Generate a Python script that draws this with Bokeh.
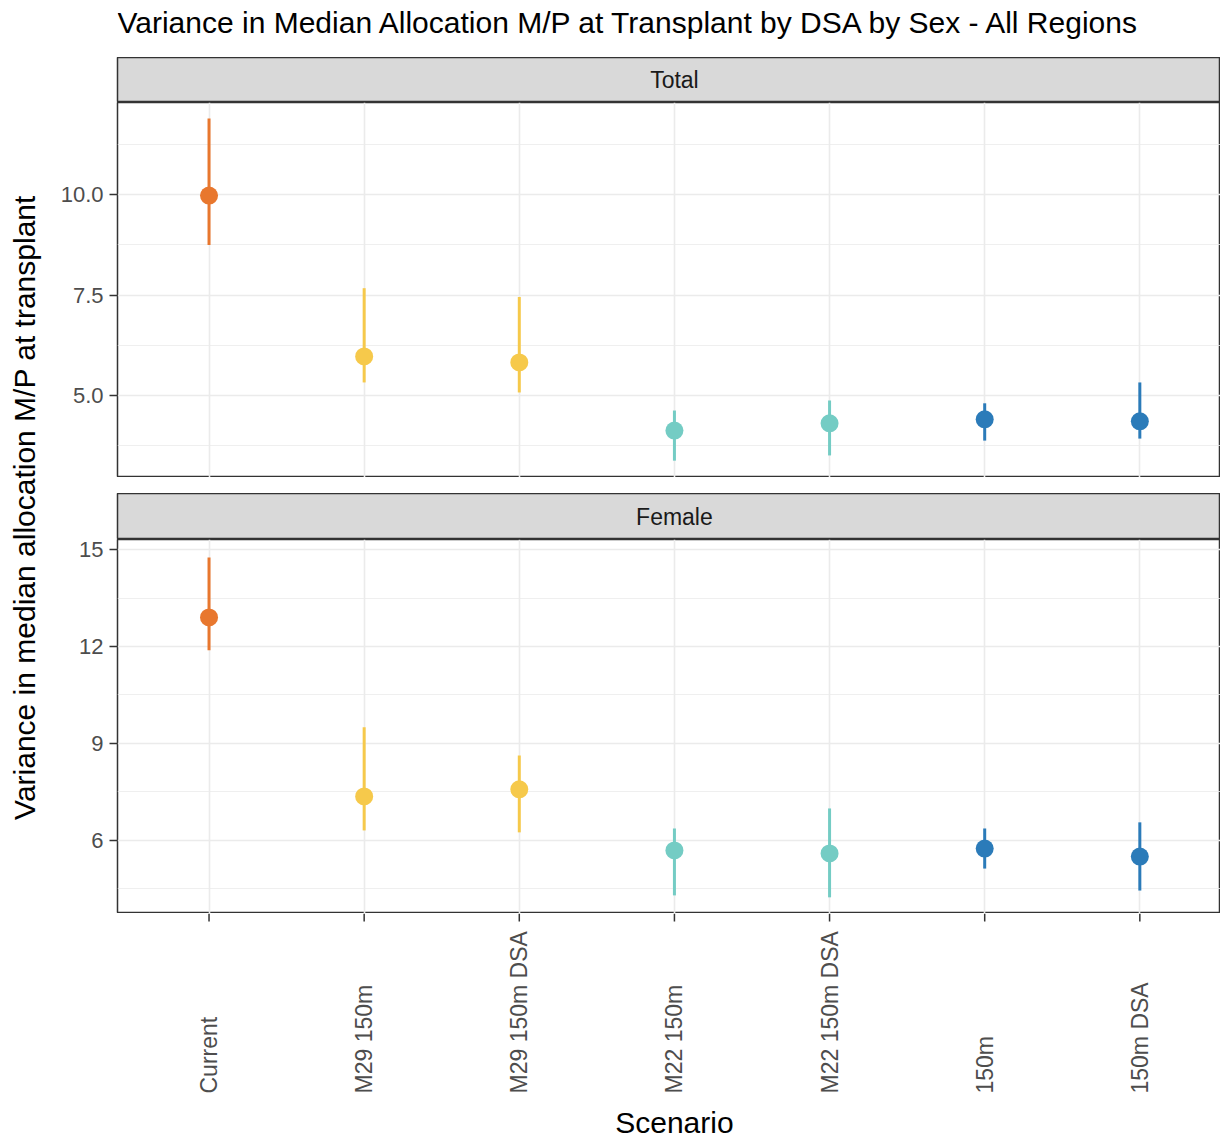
import math
from bokeh.plotting import figure
from bokeh.layouts import row, column
from bokeh.models import Range1d, FixedTicker, Grid, Spacer, ColumnDataSource
from bokeh.core.properties import value
from bokeh.embed import file_html
from bokeh.resources import INLINE

# ---------------- data ----------------
scenarios = ["Current", "M29 150m", "M29 150m DSA", "M22 150m", "M22 150m DSA", "150m", "150m DSA"]
colors = ["#E8772E", "#F6C94B", "#F6C94B", "#74CCC4", "#74CCC4", "#2B7BB9", "#2B7BB9"]

total_mid = [9.98, 5.97, 5.82, 4.12, 4.30, 4.40, 4.35]
total_lo = [8.75, 5.32, 5.07, 3.37, 3.50, 3.87, 3.92]
total_hi = [11.90, 7.67, 7.45, 4.62, 4.87, 4.80, 5.32]

female_mid = [12.90, 7.36, 7.58, 5.69, 5.60, 5.75, 5.50]
female_lo = [11.88, 6.31, 6.25, 4.30, 4.24, 5.13, 4.45]
female_hi = [14.75, 9.50, 8.63, 6.37, 6.99, 6.37, 6.56]

total_ticks = [5.0, 7.5, 10.0]
total_minor = [3.75, 6.25, 8.75, 11.25]
female_ticks = [6, 9, 12, 15]
female_minor = [4.5, 7.5, 10.5, 13.5]

title_text = "Variance in Median Allocation M/P at Transplant by DSA by Sex - All Regions"
ylabel_text = "Variance in median allocation M/P at transplant"
xlabel_text = "Scenario"
facets = ["Total", "Female"]

# ---------------- layout constants ----------------
FONT = "Liberation Sans"
YLAB_W = 48
W_RIGHT = 1220 - YLAB_W
LEFT = 69
idx = list(range(1, len(scenarios) + 1))
x_range = Range1d(0.41, 7.52)
GRID = "#EBEBEB"
BORDER = "#333333"
H_TITLE, H_STRIP1, H_P1, H_GAP, H_STRIP2, H_P2, H_FOOT = 57, 45, 375, 16, 46, 374, 226
OVERLAP = 10  # p2 canvas reaches up under the strip (transparent), so its top tick label is not clipped


def base_fig(height, y_range, x_rng=x_range, width=W_RIGHT, left=LEFT, yaxis=False, top=0):
    p = figure(width=width, height=height, x_range=x_rng, y_range=y_range,
               toolbar_location=None, output_backend="svg",
               x_axis_location=None, y_axis_location="left" if yaxis else None,
               min_border_left=left, min_border_right=0, min_border_top=top, min_border_bottom=0)
    p.border_fill_color = "white"
    p.background_fill_color = "white"
    p.outline_line_color = None
    p.center = []  # drop default grids
    return p


def strip(label, height):
    p = base_fig(height, Range1d(0, 1))
    p.background_fill_color = "#D9D9D9"
    p.outline_line_color = BORDER
    p.outline_line_width = 1.5
    p.text(x=[(idx[0] + idx[-1]) / 2], y=[0.5], text=[label], text_align="center",
           text_baseline="middle", text_font=value(FONT), text_font_size="23px",
           text_color="#1A1A1A")
    return p


def panel(height, yr, ticks, minor, mid, lo, hi, fmt, top=0):
    p = base_fig(height + top, Range1d(*yr), yaxis=True, top=top)
    p.outline_line_color = BORDER
    p.outline_line_width = 1.5
    tk = FixedTicker(ticks=ticks, minor_ticks=minor)
    ax = p.yaxis[0]
    ax.ticker = tk
    ax.major_label_overrides = {t: fmt(t) for t in ticks}
    ax.axis_line_color = None
    ax.major_tick_line_color = BORDER
    ax.major_tick_line_width = 1.5
    ax.major_tick_out = 8
    ax.major_tick_in = 0
    ax.minor_tick_line_color = None
    ax.major_label_text_font = FONT
    ax.major_label_text_font_size = "22px"
    ax.major_label_text_color = "#4D4D4D"
    ax.major_label_standoff = 6
    p.add_layout(Grid(dimension=1, ticker=tk, grid_line_color=GRID, grid_line_width=1.6,
                      minor_grid_line_color=GRID, minor_grid_line_width=0.8))
    p.add_layout(Grid(dimension=0, ticker=FixedTicker(ticks=idx),
                      grid_line_color=GRID, grid_line_width=1.6))
    src = ColumnDataSource(dict(x=idx, mid=mid, lo=lo, hi=hi, c=colors))
    p.segment(x0="x", y0="lo", x1="x", y1="hi", line_color="c", line_width=3, source=src)
    p.scatter(x="x", y="mid", size=18, fill_color="c", line_color="c", line_width=0, source=src)
    return p


# title (frame aligned with panels, so x in data units)
title_fig = base_fig(H_TITLE, Range1d(0, H_TITLE))
title_fig.text(x=[x_range.start], y=[H_TITLE - 22], text=[title_text], text_align="left",
               text_baseline="middle", text_font=value(FONT), text_font_size="30px",
               text_color="black")

strip1 = strip(facets[0], H_STRIP1)
p1 = panel(H_P1, (2.95, 12.3), total_ticks, total_minor, total_mid, total_lo, total_hi,
           lambda t: f"{t:.1f}")
gap = Spacer(width=W_RIGHT, height=H_GAP)
strip2 = strip(facets[1], H_STRIP2)
p2 = panel(H_P2, (3.74, 15.31), female_ticks, female_minor, female_mid, female_lo, female_hi,
           lambda t: f"{t:d}", top=OVERLAP)
p2.border_fill_alpha = 0
p2.margin = (-OVERLAP, 0, 0, 0)

# x axis foot: ticks, rotated labels, axis title
foot = base_fig(H_FOOT, Range1d(0, H_FOOT))
foot.segment(x0=idx, y0=[H_FOOT] * len(idx), x1=idx, y1=[H_FOOT - 8] * len(idx),
             line_color=BORDER, line_width=1.5)
foot.text(x=idx, y=[H_FOOT - 180] * len(idx), text=scenarios, angle=math.pi / 2,
          text_align="left", text_baseline="middle", text_font=value(FONT),
          text_font_size="23px", text_color="#4D4D4D")
foot.text(x=[(idx[0] + idx[-1]) / 2], y=[17], text=[xlabel_text], text_align="center",
          text_baseline="middle", text_font=value(FONT), text_font_size="30px", text_color="black")

# y axis title
TOTAL_H = H_TITLE + H_STRIP1 + H_P1 + H_GAP + H_STRIP2 + H_P2 + H_FOOT
ylab = base_fig(TOTAL_H, Range1d(0, TOTAL_H), x_rng=Range1d(0, YLAB_W), width=YLAB_W, left=0)
ylab.text(x=[24], y=[TOTAL_H - 507], text=[ylabel_text], angle=math.pi / 2,
          text_align="center", text_baseline="middle", text_font=value(FONT),
          text_font_size="30px", text_color="black")

layout = row(ylab, column(title_fig, strip1, p1, gap, strip2, p2, foot))

open("out.html", "w").write(file_html(layout, INLINE))
